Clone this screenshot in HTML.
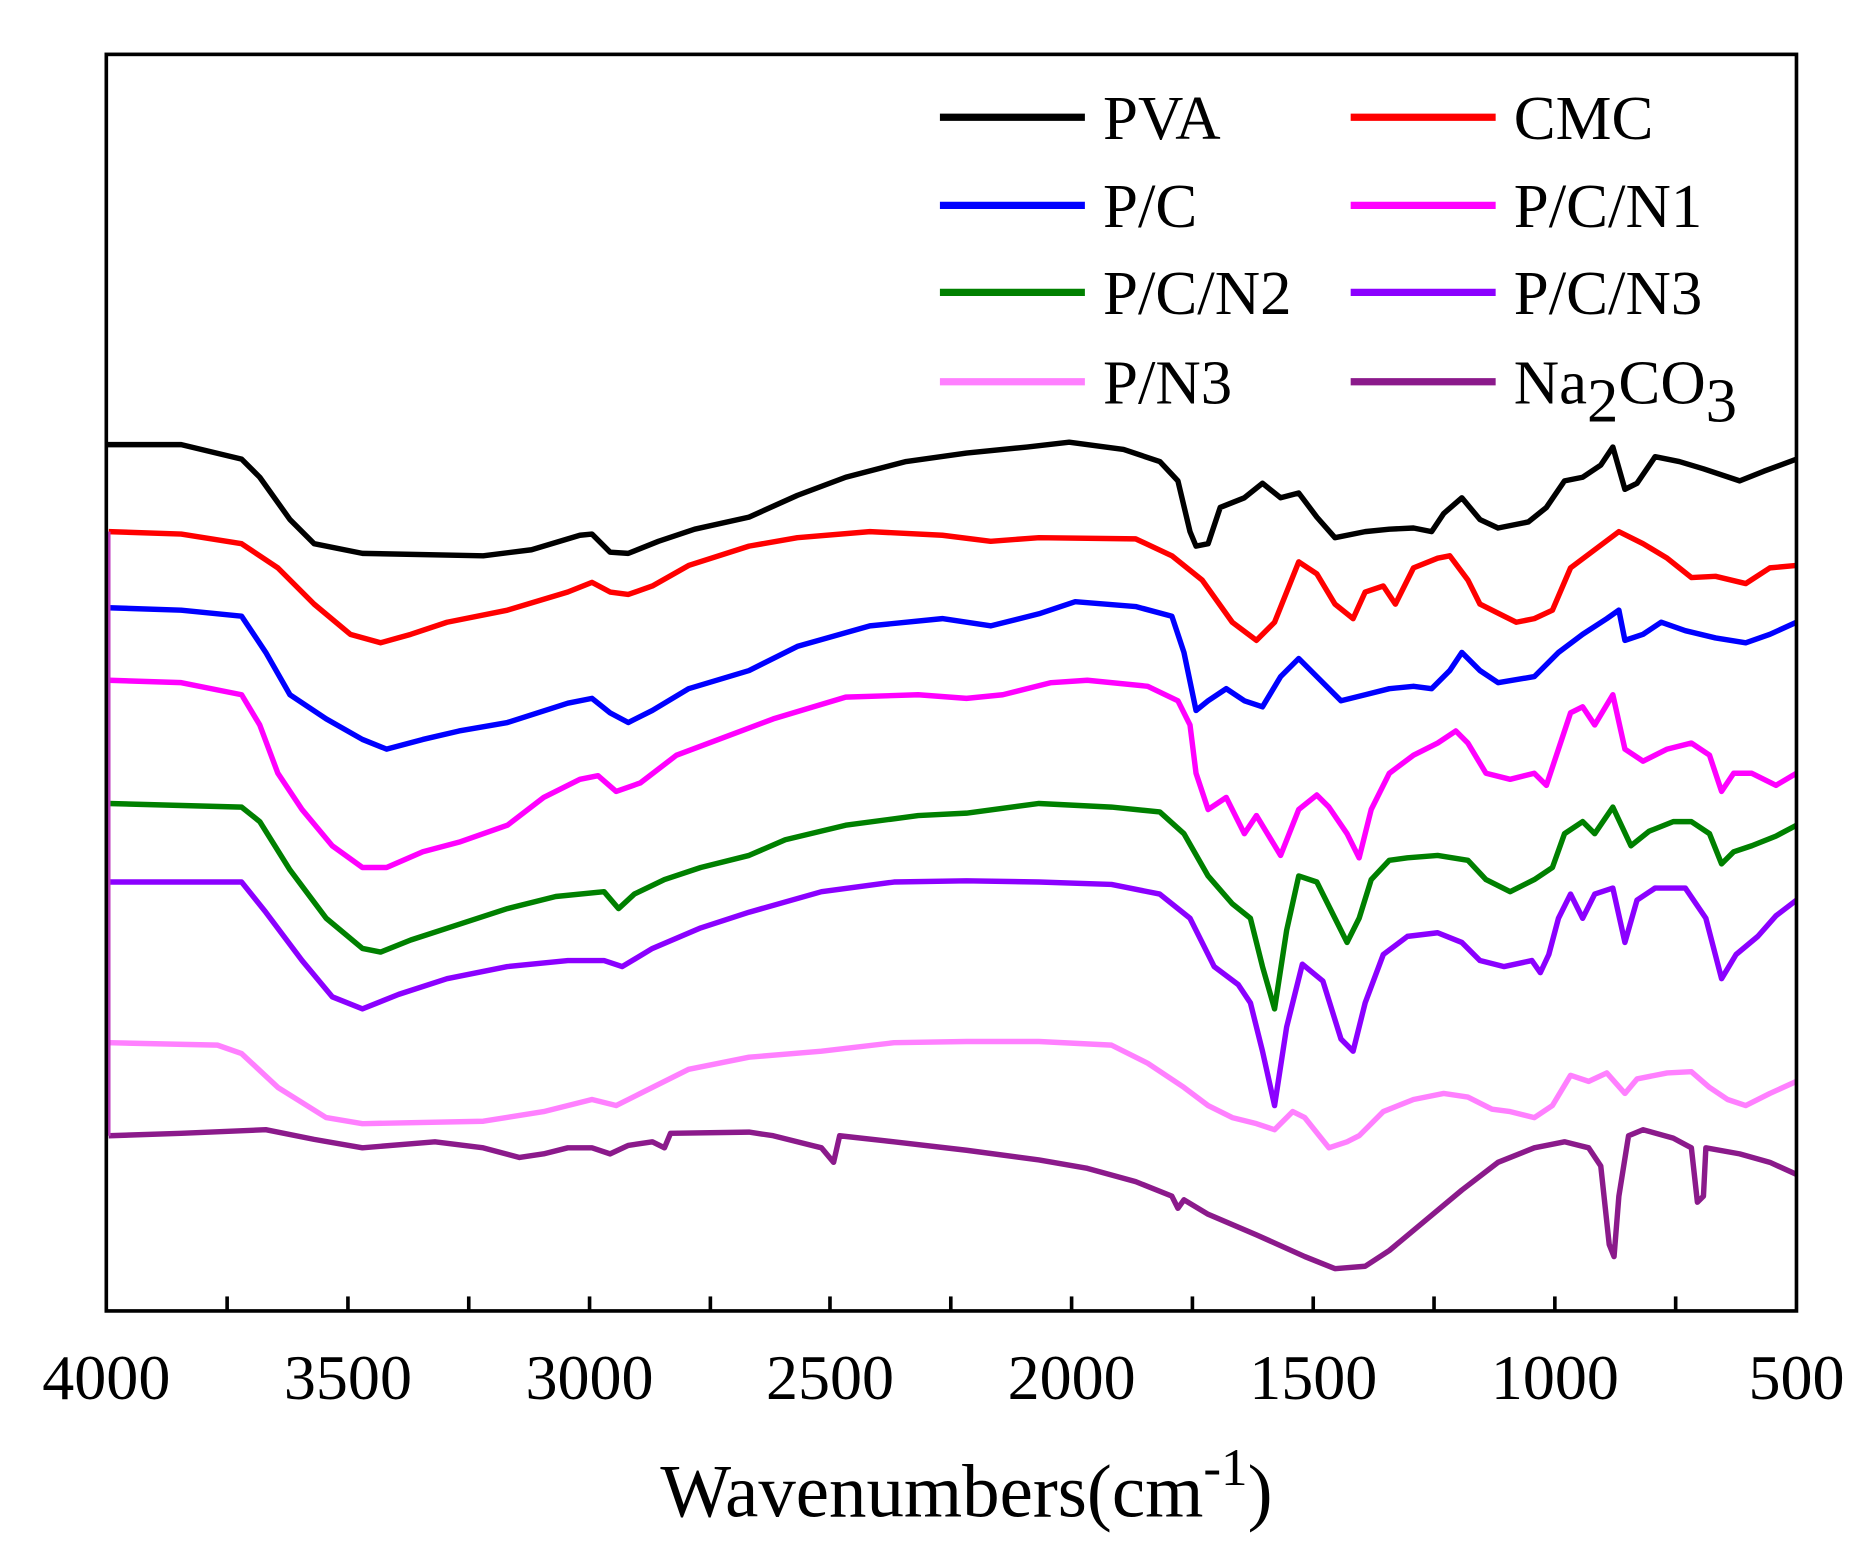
<!DOCTYPE html>
<html><head><style>html,body{margin:0;padding:0;background:#fff;}svg{display:block;}</style></head>
<body>
<svg width="1875" height="1555" viewBox="0 0 1552 1287" preserveAspectRatio="none" xmlns="http://www.w3.org/2000/svg" font-family="Liberation Serif, serif">
<rect x="0" y="0" width="1552" height="1287" fill="#fff"/>
<g fill="none" stroke-width="4.5" stroke-linejoin="round">
<polyline stroke="#000" points="88,368 150,368 200,380 215,395 240,430 260,450 300,458 400,460 440,455 480,443 490,442 505,457 520,458 545,448 575,438 620,428 660,410 700,395 750,382 800,375 850,370 885,366 930,372 960,382 975,398 985,440 990,452 1000,450 1010,420 1030,412 1045,400 1060,412 1075,408 1090,428 1105,445 1130,440 1150,438 1170,437 1185,440 1195,425 1210,412 1225,430 1240,437 1265,432 1280,420 1295,398 1310,395 1325,385 1335,370 1345,405 1355,400 1370,378 1390,382 1410,388 1440,398 1460,390 1487,380"/>
<polyline stroke="#f00" points="90,440 150,442 200,450 230,470 260,500 290,525 315,532 340,525 370,515 420,505 470,490 490,482 505,490 520,492 540,485 570,468 620,452 660,445 720,440 780,443 820,448 860,445 940,446 970,460 995,480 1020,515 1040,530 1055,515 1075,465 1090,475 1105,500 1120,512 1130,490 1145,485 1155,500 1170,470 1190,462 1200,460 1215,480 1225,500 1245,510 1255,515 1270,512 1285,505 1300,470 1320,455 1340,440 1360,450 1380,462 1400,478 1420,477 1445,483 1465,470 1487,468"/>
<polyline stroke="#00f" points="90,503 150,505 200,510 220,540 240,575 270,595 300,612 320,620 350,612 380,605 420,598 470,582 490,578 505,590 520,598 540,588 570,570 620,555 660,535 720,518 780,512 820,518 860,508 890,498 940,502 970,510 980,540 990,588 1000,580 1015,570 1030,580 1045,585 1060,560 1075,545 1090,560 1110,580 1130,575 1150,570 1170,568 1185,570 1200,555 1210,540 1225,555 1240,565 1270,560 1290,540 1310,525 1330,512 1340,505 1345,530 1360,525 1375,515 1395,522 1420,528 1445,532 1465,525 1487,515"/>
<polyline stroke="#f0f" points="90,563 150,565 200,575 215,600 230,640 250,670 275,700 300,718 320,718 350,705 380,697 420,683 450,660 480,645 495,642 510,655 530,648 560,625 600,610 640,595 700,577 760,575 800,578 830,575 870,565 900,563 950,568 975,580 985,600 990,640 1000,670 1015,660 1030,690 1040,675 1060,708 1075,670 1090,658 1100,668 1115,690 1125,710 1135,670 1150,640 1170,625 1190,615 1205,605 1215,615 1230,640 1250,645 1270,640 1280,650 1290,620 1300,590 1310,585 1320,600 1335,575 1345,620 1360,630 1380,620 1400,615 1415,625 1425,655 1435,640 1450,640 1470,650 1487,640"/>
<polyline stroke="#008000" points="90,665 200,668 215,680 240,720 270,760 300,785 315,788 340,778 380,765 420,752 460,742 500,738 512,752 525,740 550,728 580,718 620,708 650,695 700,683 760,675 800,673 860,665 920,668 960,672 980,690 1000,725 1020,748 1035,760 1045,800 1055,835 1065,770 1075,725 1090,730 1105,760 1115,780 1125,760 1135,728 1150,712 1165,710 1190,708 1215,712 1230,728 1250,738 1270,728 1285,718 1295,690 1310,680 1320,690 1335,668 1350,700 1365,688 1385,680 1400,680 1415,690 1425,715 1435,705 1450,700 1470,692 1487,683"/>
<polyline stroke="#8b00ff" points="90,730 200,730 220,755 250,795 275,825 300,835 330,823 370,810 420,800 470,795 500,795 515,800 540,785 580,768 620,755 680,738 740,730 800,729 860,730 920,732 960,740 985,760 1005,800 1025,815 1035,830 1045,870 1055,915 1065,850 1078,798 1095,812 1110,860 1120,870 1130,830 1145,790 1165,775 1190,772 1210,780 1225,795 1245,800 1268,795 1275,805 1282,790 1290,760 1300,740 1310,760 1320,740 1335,735 1345,780 1355,745 1370,735 1395,735 1412,760 1425,810 1437,790 1455,775 1470,758 1487,745"/>
<polyline stroke="#ff80ff" points="90,863 180,865 200,872 230,900 270,925 300,930 400,928 450,920 490,910 510,915 530,905 570,885 620,875 680,870 740,863 800,862 860,862 920,865 950,880 980,900 1000,915 1020,925 1040,930 1055,935 1070,920 1080,925 1100,950 1115,945 1125,940 1145,920 1170,910 1195,905 1215,908 1235,918 1250,920 1270,925 1285,915 1300,890 1315,895 1330,888 1345,905 1355,893 1380,888 1400,887 1415,900 1430,910 1445,915 1465,905 1487,895"/>
<polyline stroke="#8b1a8b" points="90,940 150,938 220,935 260,943 300,950 360,945 400,950 430,958 450,955 470,950 490,950 505,955 520,948 540,945 550,950 555,938 620,937 640,940 680,950 690,962 695,940 740,945 800,952 860,960 900,967 940,978 970,990 975,1000 980,993 1000,1005 1040,1022 1080,1040 1105,1050 1130,1048 1150,1035 1180,1010 1210,985 1240,962 1270,950 1295,945 1315,950 1325,965 1332,1030 1336,1040 1340,990 1348,940 1360,935 1385,942 1400,950 1405,995 1410,990 1412,950 1440,955 1465,962 1487,972"/>
<line x1="90" y1="440" x2="90" y2="940" stroke="#c040c0" stroke-width="3"/>
</g>
<rect x="88" y="45" width="1399" height="1040" fill="none" stroke="#000" stroke-width="3"/>
<g stroke="#000" stroke-width="3">
<line x1="188" y1="1085" x2="188" y2="1073"/><line x1="288" y1="1085" x2="288" y2="1073"/><line x1="388" y1="1085" x2="388" y2="1073"/><line x1="488" y1="1085" x2="488" y2="1073"/><line x1="588" y1="1085" x2="588" y2="1073"/><line x1="687" y1="1085" x2="687" y2="1073"/><line x1="787" y1="1085" x2="787" y2="1073"/><line x1="887" y1="1085" x2="887" y2="1073"/><line x1="987" y1="1085" x2="987" y2="1073"/><line x1="1087" y1="1085" x2="1087" y2="1073"/><line x1="1187" y1="1085" x2="1187" y2="1073"/><line x1="1287" y1="1085" x2="1287" y2="1073"/><line x1="1387" y1="1085" x2="1387" y2="1073"/>
</g>
<g font-size="53" text-anchor="middle" fill="#000">
<text x="88" y="1158">4000</text><text x="288" y="1158">3500</text><text x="488" y="1158">3000</text><text x="687" y="1158">2500</text><text x="887" y="1158">2000</text><text x="1087" y="1158">1500</text><text x="1287" y="1158">1000</text><text x="1487" y="1158">500</text>
</g>
<text x="800" y="1255" font-size="62" text-anchor="middle">Wavenumbers(cm<tspan dy="-26" font-size="44">-1</tspan><tspan dy="26">)</tspan></text>
<g stroke-width="6">
<line x1="778" y1="97" x2="898" y2="97" stroke="#000"/><line x1="1118" y1="97" x2="1238" y2="97" stroke="#f00"/>
<line x1="778" y1="170" x2="898" y2="170" stroke="#00f"/><line x1="1118" y1="170" x2="1238" y2="170" stroke="#f0f"/>
<line x1="778" y1="242" x2="898" y2="242" stroke="#008000"/><line x1="1118" y1="242" x2="1238" y2="242" stroke="#8b00ff"/>
<line x1="778" y1="316" x2="898" y2="316" stroke="#ff80ff"/><line x1="1118" y1="316" x2="1238" y2="316" stroke="#8b1a8b"/>
</g>
<g font-size="52" fill="#000">
<text x="913" y="115">PVA</text><text x="1253" y="115">CMC</text>
<text x="913" y="188">P/C</text><text x="1253" y="188">P/C/N1</text>
<text x="913" y="260">P/C/N2</text><text x="1253" y="260">P/C/N3</text>
<text x="913" y="334">P/N3</text><text x="1253" y="334">Na<tspan dy="15">2</tspan><tspan dy="-15">CO</tspan><tspan dy="15">3</tspan></text>
</g>
</svg>
</body></html>
